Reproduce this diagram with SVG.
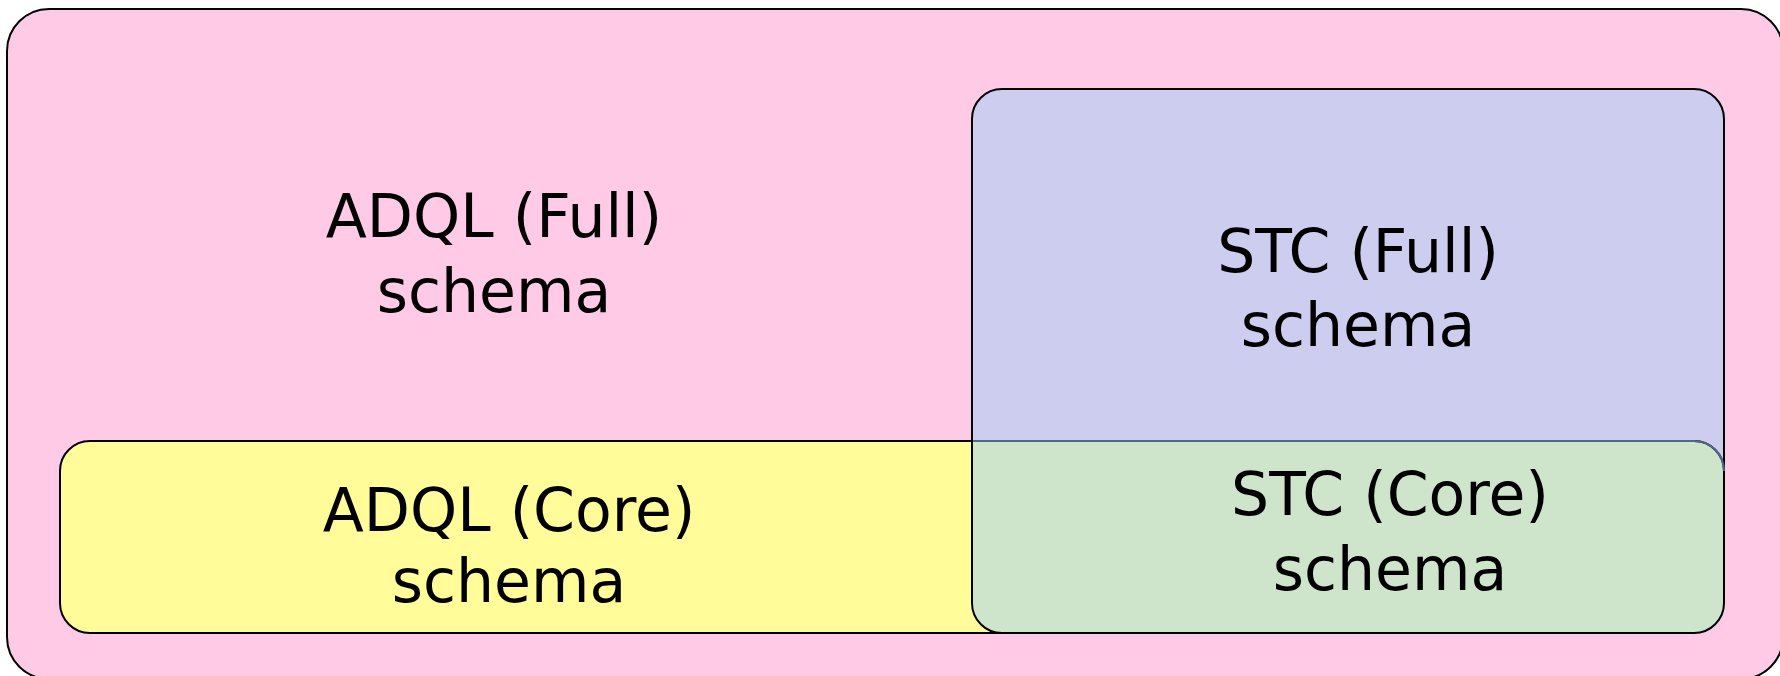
<svg xmlns="http://www.w3.org/2000/svg" width="1780" height="676" viewBox="0 0 1780 676">
<style>
.box{stroke:#000;stroke-width:2}
.lbl{font-family:"DejaVu Sans",sans-serif;font-size:60px;fill:#000;text-anchor:middle}
</style>
<rect width="1780" height="676" fill="#ffffff"/>
<g id="adql-full">
<rect class="box" x="7" y="9" width="1776" height="670" rx="42" fill="#ffcae6"/>
<text class="lbl" x="494" y="237">ADQL (Full)</text>
<text class="lbl" x="494" y="312">schema</text>
</g>
<g id="adql-core">
<rect class="box" x="60" y="441" width="1000" height="192" rx="30" fill="#fffc99"/>
<text class="lbl" x="509" y="531">ADQL (Core)</text>
<text class="lbl" x="509" y="602">schema</text>
</g>
<g id="stc-full">
<rect class="box" x="972" y="89" width="752" height="420" rx="30" fill="#cdcdf0"/>
<text class="lbl" x="1358" y="272">STC (Full)</text>
<text class="lbl" x="1358" y="346">schema</text>
</g>
<g id="stc-core">
<path class="box" d="M972 441 H1694 A30 30 0 0 1 1724 471 V603 A30 30 0 0 1 1694 633 H1002 A30 30 0 0 1 972 603 Z" fill="#cee5cc"/>
<path d="M972 441 H1694 A30 30 0 0 1 1724 471" fill="none" stroke="#4f6788" stroke-width="2"/>
<line x1="972" y1="440" x2="972" y2="603" stroke="#000" stroke-width="2"/>
<text class="lbl" x="1390" y="515">STC (Core)</text>
<text class="lbl" x="1390" y="590">schema</text>
</g>
<g id="connectors"/>
</svg>
